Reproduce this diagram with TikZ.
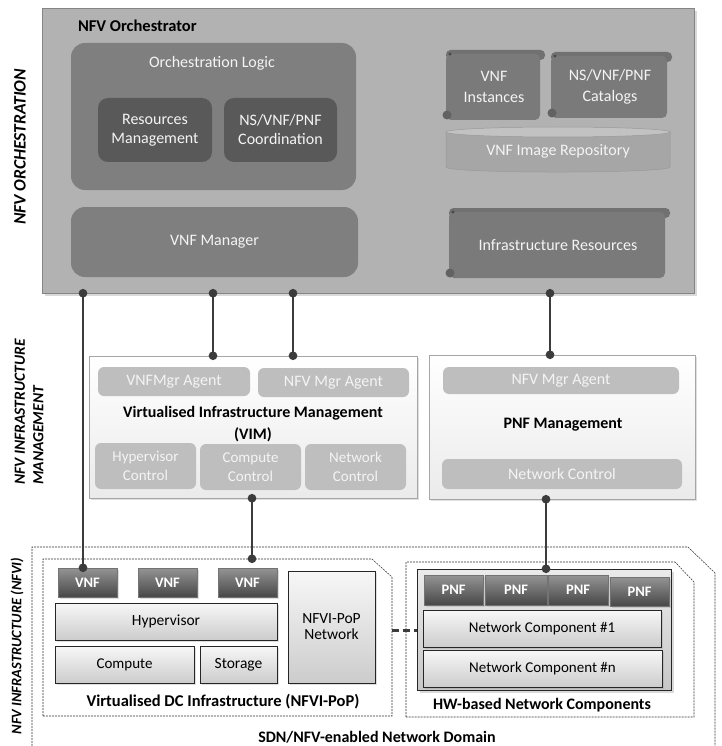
\documentclass[tikz,border=0pt]{standalone}
\usepackage{fontspec}
\setmainfont{Carlito}
\usetikzlibrary{shadows,arrows.meta,calc}
\definecolor{orchfill}{HTML}{B2B2B2}
\definecolor{orchdraw}{HTML}{858585}
\definecolor{midgray}{HTML}{7F7F7F}
\definecolor{darkgraybox}{HTML}{595959}
\definecolor{scrollc}{HTML}{7A7A7A}
\definecolor{repoc}{HTML}{A6A6A6}
\definecolor{agentc}{HTML}{BEBEBE}
\definecolor{connc}{HTML}{3C3C3C}
\definecolor{txtw}{HTML}{F4F4F4}
\newcommand\scrollbox[6]{%
  \fill[scrollc!93!black, rounded corners=4.5pt] ({#2+3},#3) rectangle (#4,{#3+10});
  \fill[scrollc, rounded corners=5pt] ({#2+3},{#3+4}) rectangle ({#4-5},#5);
  \fill[scrollc!80!black] ({#2+4},{#5-5}) circle (4.5pt);
  \fill[scrollc!60!black] ({#2+7},{#3+4}) circle (1.6pt);
  \node[scrolltext] (#1) at ({(#2+#4)/2},{(#3+#5)/2+2}) {#6};
}
\begin{document}
\begin{tikzpicture}[x=1pt,y=-1pt,
  every node/.style={inner sep=1pt, outer sep=0pt},
  font=\fontsize{16}{19}\selectfont,
  orchbox/.style={draw=orchdraw, fill=orchfill, line width=0.8pt,
    drop shadow={shadow xshift=3pt, shadow yshift=-3pt, opacity=0.3}},
  midbox/.style={fill=midgray, rounded corners=14pt, text=txtw},
  darkbox/.style={fill=darkgraybox, rounded corners=10pt, text=txtw, align=center},
  scrolltext/.style={text=txtw, align=center, font=\fontsize{16}{20.5}\selectfont},
  mgmtbox/.style={draw=black!35, top color=white, bottom color=black!8,
    drop shadow={shadow xshift=2pt, shadow yshift=-2pt, opacity=0.25}},
  agent/.style={fill=agentc, rounded corners=6pt, text=txtw, align=center},
  lightbox/.style={draw=black!85, line width=0.6pt, top color=black!3, bottom color=black!20, align=center,
    drop shadow={shadow xshift=1.5pt, shadow yshift=-1.5pt, opacity=0.25}},
  fnbox/.style={draw=black!55, top color=black!42, bottom color=black!72, text=white, font=\fontsize{14.5}{16}\selectfont\bfseries,
    drop shadow={shadow xshift=1.5pt, shadow yshift=-1.5pt, opacity=0.25}},
  hwsolidbox/.style={draw=black!85, line width=0.6pt, top color=black!8, bottom color=black!22,
    drop shadow={shadow xshift=2.5pt, shadow yshift=-2.5pt, opacity=0.3}},
  dashline/.style={draw=black!80, dash pattern=on 2pt off 1pt, line width=0.55pt},
  conn/.style={draw=connc, line width=2.8pt, shorten <=-4pt, shorten >=-4pt,
    {Circle[length=8.5pt]}-{Circle[length=8.5pt]}},
  dashconn/.style={draw=connc, line width=3pt, dash pattern=on 7pt off 4pt},
  sidelabel/.style={rotate=90, align=left},
  titletext/.style={font=\fontsize{16}{22}\selectfont\bfseries, align=center}
]
\useasboundingbox (0,0) rectangle (721,746);

% ---------- NFV Orchestrator ----------
\node[orchbox, minimum width=652pt, minimum height=285pt] (orch) at (368,150.5) {};
\node[titletext, anchor=west, font=\fontsize{16.5}{19}\selectfont\bfseries] (orchtitle) at (77,26) {NFV Orchestrator};
\node[midbox, minimum width=285pt, minimum height=147pt] (ologic) at (213.5,116.5) {};
\node[text=txtw] (ologictxt) at (212,63) {Orchestration Logic};
\node[darkbox, minimum width=114pt, minimum height=64pt] (resm) at (155,130) {Resources\\Management};
\node[darkbox, minimum width=113pt, minimum height=64pt] (coord) at (280.5,130) {NS/VNF/PNF\\Coordination};
\node[midbox, minimum width=287pt, minimum height=70pt] (vnfm) at (214.5,242) {VNF Manager};

\scrollbox{vnfinst}{443}{50}{545}{120}{VNF\\Instances}
\scrollbox{catalogs}{548}{52}{672}{118}{NS/VNF/PNF\\Catalogs}
\scrollbox{infra}{446}{208}{670}{278}{Infrastructure Resources}

% cylinder
\fill[black!30, opacity=0.5] (449,135) -- (449,170) .. controls (449,177) and (673,177) .. (673,170) -- (673,135) -- cycle;
\filldraw[fill=repoc, draw=black!40, line width=0.5pt] (446,132) -- (446,167) .. controls (446,173.7) and (670,173.7) .. (670,167) -- (670,132) -- cycle;
\filldraw[fill=black!24, draw=black!40, line width=0.5pt] (558,132) ellipse [x radius=112, y radius=5];
\node[text=txtw] (repo) at (558,151) {VNF Image Repository};

% ---------- Management ----------
\node[mgmtbox, minimum width=328pt, minimum height=142pt] (vim) at (253,427) {};
\node[agent, minimum width=152pt, minimum height=29pt] (vnfmgragent) at (174,381.5) {VNFMgr Agent};
\node[agent, minimum width=151pt, minimum height=29pt] (nfvmgragent) at (333.5,382.5) {NFV Mgr Agent};
\node[titletext] (vimtitle) at (253,424) {Virtualised Infrastructure Management\\(VIM)};
\node[agent, minimum width=101pt, minimum height=46pt, font=\fontsize{15}{19}\selectfont] (hypctl) at (145.5,466) {Hypervisor\\Control};
\node[agent, minimum width=101pt, minimum height=46pt, font=\fontsize{15}{19}\selectfont] (compctl) at (250.5,467) {Compute\\Control};
\node[agent, minimum width=101pt, minimum height=46pt, font=\fontsize{15}{19}\selectfont] (netctl) at (355.5,467) {Network\\Control};

\node[mgmtbox, minimum width=266pt, minimum height=144pt] (pnfm) at (562,427) {};
\node[agent, minimum width=236pt, minimum height=27pt] (pnfagent) at (561,380.5) {NFV Mgr Agent};
\node[titletext] (pnftitle) at (563,425) {PNF Management};
\node[agent, minimum width=240pt, minimum height=30pt] (pnfnetctl) at (562,474) {Network Control};

% ---------- NFVI ----------
\node[minimum width=683pt, minimum height=199pt, inner sep=0pt] (nfvi) at (373.5,646.5) {};
\draw[dashline] (nfvi.south west) -- (nfvi.north west) -- ([xshift=-27pt]nfvi.north east) -- ([yshift=-26pt]nfvi.north east) -- (nfvi.south east);

\node[minimum width=349pt, minimum height=157pt, inner sep=0pt] (dcbox) at (217.5,637.5) {};
\draw[dashline] (dcbox.south west) -- (dcbox.north west) -- ([xshift=-20pt]dcbox.north east) -- ([yshift=-18pt]dcbox.north east) -- (dcbox.south east) -- cycle;

\node[minimum width=288pt, minimum height=155pt, inner sep=0pt] (hwbox) at (550,639.5) {};
\draw[dashline] (hwbox.south west) -- (hwbox.north west) -- ([xshift=-19pt]hwbox.north east) -- ([yshift=-20pt]hwbox.north east) -- (hwbox.south east) -- cycle;

\node[fnbox, minimum width=59pt, minimum height=29pt] (vnf1) at (87.5,582.5) {VNF};
\node[fnbox, minimum width=59pt, minimum height=29pt] (vnf2) at (167.5,582.5) {VNF};
\node[fnbox, minimum width=59pt, minimum height=29pt] (vnf3) at (247.5,582.5) {VNF};
\node[lightbox, minimum width=222pt, minimum height=37pt, font=\fontsize{15.5}{19}\selectfont] (hyper) at (166,621.5) {Hypervisor};
\node[lightbox, minimum width=139pt, minimum height=37pt, font=\fontsize{15}{19}\selectfont] (compute) at (124.5,664.5) {Compute};
\node[lightbox, minimum width=77pt, minimum height=37pt, font=\fontsize{15.5}{19}\selectfont] (storage) at (238.5,664.5) {Storage};
\node[lightbox, minimum width=87pt, minimum height=112pt, font=\fontsize{15.5}{16}\selectfont] (popnet) at (331.5,627) {NFVI-PoP\\Network};
\node[titletext, font=\fontsize{16.5}{19}\selectfont\bfseries] (dclabel) at (223,702) {Virtualised DC Infrastructure (NFVI-PoP)};

\node[hwsolidbox, minimum width=254pt, minimum height=121pt] (hwsolid) at (544,629.5) {};
\node[fnbox, minimum width=59pt, minimum height=30pt] (pnf1) at (453.5,590) {PNF};
\node[fnbox, minimum width=62pt, minimum height=30pt] (pnf2) at (516,590) {PNF};
\node[fnbox, minimum width=60pt, minimum height=30pt] (pnf3) at (578,590) {PNF};
\node[fnbox, minimum width=59pt, minimum height=29pt] (pnf4) at (639.5,591.5) {PNF};
\node[lightbox, minimum width=238pt, minimum height=37pt, font=\fontsize{15}{17}\selectfont] (nc1) at (542,628.5) {Network Component \#1};
\node[lightbox, minimum width=239pt, minimum height=37pt, font=\fontsize{15}{17}\selectfont] (ncn) at (542.5,668.5) {Network Component \#n};
\node[titletext] (hwlabel) at (542,705) {HW-based Network Components};

\node[titletext] (domainlabel) at (377,737) {SDN/NFV-enabled Network Domain};

% ---------- side labels ----------
\node[sidelabel, font=\fontsize{17.5}{20}\selectfont\bfseries\itshape] (lblorch) at (20,147) {NFV ORCHESTRATION};
\node[sidelabel, font=\fontsize{15.5}{18.5}\selectfont\bfseries\itshape] (lblmgmt) at (29,412) {NFV INFRASTRUCTURE\\MANAGEMENT};
\node[sidelabel, font=\fontsize{14.5}{17}\selectfont\bfseries\itshape] (lblnfvi) at (17,646) {NFV INFRASTRUCTURE (NFVI)};

% ---------- connectors ----------
\coordinate (cx1) at (83,0);
\coordinate (cx2) at (213,0);
\coordinate (cx3) at (293,0);
\coordinate (cx4) at (550,0);
\coordinate (cx5) at (252,0);
\coordinate (cx6) at (546,0);
\draw[conn] (orch.south -| cx1) -- (vnf1.north -| cx1);
\draw[conn] (orch.south -| cx2) -- (vim.north -| cx2);
\draw[conn] (orch.south -| cx3) -- (vim.north -| cx3);
\draw[conn] (orch.south -| cx4) -- (pnfm.north -| cx4);
\draw[conn] (vim.south -| cx5) -- (dcbox.north -| cx5);
\draw[conn] (pnfm.south -| cx6) -- (hwsolid.north -| cx6);
\draw[dashconn] ([yshift=-1.5pt]dcbox.east |- nc1.center) -- ([yshift=-1.5pt]hwsolid.west |- nc1.center);
\end{tikzpicture}
\end{document}
